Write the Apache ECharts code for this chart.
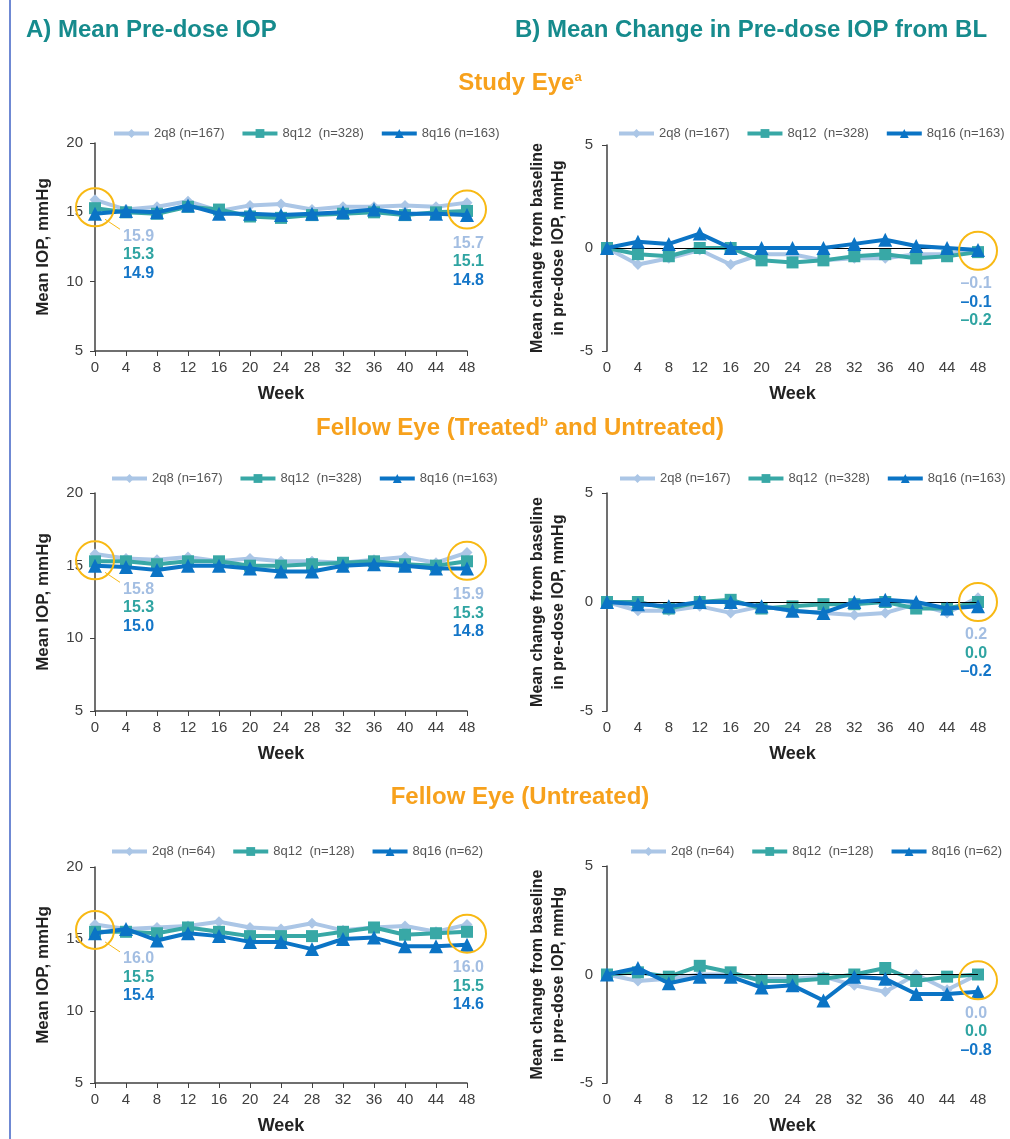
<!DOCTYPE html>
<html>
<head>
<meta charset="utf-8">
<script src="https://cdn.jsdelivr.net/npm/echarts@6/dist/echarts.min.js"></script>
<style>
html,body{margin:0;padding:0;background:#ffffff;}
#c{width:1010px;height:1139px;}
</style>
</head>
<body>
<div id="c"></div>
<script>
// ---------- data ----------
const weeks = ['0','4','8','12','16','20','24','28','32','36','40','44','48'];
const legendNamesAll = ['2q8 (n=167)', '8q12  (n=328)', '8q16 (n=163)'];
const legendNamesUntreated = ['2q8 (n=64)', '8q12  (n=128)', '8q16 (n=62)'];
const meanTickLabels = [5, 10, 15, 20];
const changeTickLabels = [-5, 0, 5];

// Study eye, mean pre-dose IOP (mmHg)
const studyMean2q8  = [15.9, 15.2, 15.4, 15.8, 15.1, 15.5, 15.6, 15.2, 15.4, 15.4, 15.5, 15.4, 15.7];
const studyMean8q12 = [15.3, 15.0, 14.9, 15.4, 15.2, 14.7, 14.6, 14.8, 14.9, 15.0, 14.8, 15.0, 15.1];
const studyMean8q16 = [14.9, 15.1, 15.0, 15.5, 14.9, 14.9, 14.8, 14.9, 15.0, 15.2, 14.9, 14.9, 14.8];
// Study eye, mean change from BL
const studyChg2q8  = [0, -0.8, -0.5, -0.1, -0.8, -0.3, -0.3, -0.6, -0.5, -0.5, -0.3, -0.3, -0.1];
const studyChg8q12 = [0, -0.3, -0.4, 0.0, 0.0, -0.6, -0.7, -0.6, -0.4, -0.3, -0.5, -0.4, -0.2];
const studyChg8q16 = [0, 0.3, 0.2, 0.7, 0.0, 0.0, 0.0, 0.0, 0.2, 0.4, 0.1, 0.0, -0.1];

// Fellow eye (treated and untreated)
const fellowMean2q8  = [15.8, 15.5, 15.4, 15.6, 15.3, 15.5, 15.3, 15.3, 15.2, 15.4, 15.6, 15.2, 15.9];
const fellowMean8q12 = [15.3, 15.3, 15.1, 15.3, 15.3, 15.0, 15.0, 15.1, 15.2, 15.3, 15.1, 15.0, 15.3];
const fellowMean8q16 = [15.0, 14.9, 14.7, 15.0, 15.0, 14.8, 14.6, 14.6, 15.0, 15.1, 15.0, 14.8, 14.8];
const fellowChg2q8  = [0, -0.4, -0.4, -0.2, -0.5, -0.2, -0.4, -0.5, -0.6, -0.5, -0.1, -0.5, 0.2];
const fellowChg8q12 = [0, 0.0, -0.3, 0.0, 0.1, -0.3, -0.2, -0.1, -0.1, 0.0, -0.3, -0.3, 0.0];
const fellowChg8q16 = [0, -0.1, -0.2, 0.0, 0.0, -0.2, -0.4, -0.5, 0.0, 0.1, 0.0, -0.3, -0.2];

// Fellow eye (untreated)
const untrMean2q8  = [16.0, 15.7, 15.8, 15.9, 16.2, 15.8, 15.7, 16.1, 15.6, 15.8, 15.9, 15.5, 16.0];
const untrMean8q12 = [15.5, 15.5, 15.4, 15.8, 15.5, 15.2, 15.2, 15.2, 15.5, 15.8, 15.3, 15.4, 15.5];
const untrMean8q16 = [15.4, 15.7, 14.9, 15.4, 15.2, 14.8, 14.8, 14.3, 15.0, 15.1, 14.5, 14.5, 14.6];
const untrChg2q8  = [0, -0.3, -0.2, 0.0, 0.0, -0.2, -0.2, -0.1, -0.5, -0.8, 0.0, -0.7, 0.0];
const untrChg8q12 = [0, 0.1, -0.1, 0.4, 0.1, -0.3, -0.3, -0.2, 0.0, 0.3, -0.3, -0.1, 0.0];
const untrChg8q16 = [0, 0.3, -0.4, -0.1, -0.1, -0.6, -0.5, -1.2, -0.1, -0.2, -0.9, -0.9, -0.8];

// ---------- style ----------
const FONT = "'Liberation Sans', Arial, Helvetica, sans-serif";
const COLORS = ['#abc6e6', '#38a8a6', '#0b74c5'];
const LABEL_COLORS = ['#a3bee2', '#2fa4a2', '#1476c8'];
const SYMBOLS = ['diamond', 'rect', 'triangle'];
const SIZES = [11, 12, 14];
const TEAL = '#168b8d';
const ORANGE = '#f7a11c';
const CIRCLE = '#f8b914';
const AXIS = '#404040';

const panels = [
  { kind: 'mean', series: [studyMean2q8, studyMean8q12, studyMean8q16], names: legendNamesAll,
    grid: { left: 95, top: 143, width: 372, height: 208 }, legend: { left: 112, top: 127 } },
  { kind: 'chg', series: [studyChg2q8, studyChg8q12, studyChg8q16], names: legendNamesAll,
    grid: { left: 607, top: 145, width: 371, height: 206 }, legend: { left: 617, top: 127 } },
  { kind: 'mean', series: [fellowMean2q8, fellowMean8q12, fellowMean8q16], names: legendNamesAll,
    grid: { left: 95, top: 493, width: 372, height: 218 }, legend: { left: 110, top: 472 } },
  { kind: 'chg', series: [fellowChg2q8, fellowChg8q12, fellowChg8q16], names: legendNamesAll,
    grid: { left: 607, top: 493, width: 371, height: 218 }, legend: { left: 618, top: 472 } },
  { kind: 'mean', series: [untrMean2q8, untrMean8q12, untrMean8q16], names: legendNamesUntreated,
    grid: { left: 95, top: 867, width: 372, height: 216 }, legend: { left: 110, top: 845 } },
  { kind: 'chg', series: [untrChg2q8, untrChg8q12, untrChg8q16], names: legendNamesUntreated,
    grid: { left: 607, top: 866, width: 371, height: 217 }, legend: { left: 629, top: 845 } }
];

const option = {
  animation: false,
  backgroundColor: '#ffffff',
  textStyle: { fontFamily: FONT },
  grid: [], xAxis: [], yAxis: [], legend: [], series: []
};

panels.forEach((p, gi) => {
  const isMean = p.kind === 'mean';
  option.grid.push(Object.assign({ containLabel: false }, p.grid));
  option.legend.push({
    left: p.legend.left, top: p.legend.top, orient: 'horizontal', width: 420, padding: 0,
    data: p.names, itemWidth: 35, itemHeight: 11, itemGap: 16, itemTextGap: 3,
    selectedMode: false,
    lineStyle: { width: 4 },
    textStyle: { fontFamily: FONT, fontSize: 13, color: '#555555' }
  });
  option.xAxis.push({
    type: 'category', gridIndex: gi, data: weeks, boundaryGap: false,
    axisLine: { show: isMean, onZero: false, lineStyle: { color: AXIS, width: 1.5 } },
    axisTick: { show: isMean, length: 5, lineStyle: { color: AXIS } },
    axisLabel: { fontFamily: FONT, fontSize: 15, color: AXIS, margin: 9 },
    splitLine: { show: false },
    name: 'Week', nameLocation: 'middle', nameGap: 34,
    nameTextStyle: { fontFamily: FONT, fontSize: 18, fontWeight: 'bold', color: '#222222' }
  });
  const ticks = isMean ? meanTickLabels : changeTickLabels;
  option.yAxis.push({
    type: 'value', gridIndex: gi,
    min: ticks[0], max: ticks[ticks.length - 1], interval: ticks[1] - ticks[0],
    axisLine: { show: true, lineStyle: { color: AXIS, width: 1.5 } },
    axisTick: { show: true, length: 5, lineStyle: { color: AXIS } },
    axisLabel: { fontFamily: FONT, fontSize: 15, color: AXIS, margin: isMean ? 12 : 14 },
    splitLine: { show: false },
    name: isMean ? 'Mean IOP, mmHg' : 'Mean change from baseline\nin pre-dose IOP, mmHg',
    nameLocation: 'middle', nameGap: isMean ? 41 : 38,
    nameTextStyle: { fontFamily: FONT, fontSize: isMean ? 17 : 16, fontWeight: 'bold',
      color: '#222222', lineHeight: 21 }
  });
  p.series.forEach((arr, si) => {
    const s = {
      type: 'line', name: p.names[si], xAxisIndex: gi, yAxisIndex: gi, data: arr,
      symbol: SYMBOLS[si], symbolSize: SIZES[si], showAllSymbol: true,
      lineStyle: { width: 4, color: COLORS[si] },
      itemStyle: { color: COLORS[si] },
      z: 3 + si, silent: true
    };
    if (!isMean && si === 0) {
      s.markLine = {
        silent: true, symbol: 'none', label: { show: false }, animation: false,
        lineStyle: { color: '#000000', width: 1, type: 'solid' },
        data: [{ yAxis: 0 }]
      };
    }
    option.series.push(s);
  });
});

const chart = echarts.init(document.getElementById('c'), null, { renderer: 'canvas' });
chart.setOption(option);

// ---------- annotations (titles, highlight circles, end-value labels) ----------
const fmt = v => (v < 0 ? '\u2013' : '') + Math.abs(v).toFixed(1);
const graphics = [];
graphics.push({ type: 'line', shape: { x1: 10, y1: 0, x2: 10, y2: 1139 },
  style: { stroke: '#3f62c4', lineWidth: 1.5 }, silent: true });

function title(text, x, y, color, align, rich) {
  const st = { text: text, x: x, y: y, fill: color, align: align, verticalAlign: 'middle',
    font: 'bold 24px ' + FONT };
  if (rich) st.rich = rich;
  graphics.push({ type: 'text', style: st, silent: true });
}
const supRich = { sup: { fill: ORANGE, fontSize: 13, fontWeight: 'bold', fontFamily: FONT, verticalAlign: 'top', padding: [0, 0, 10, 0] } };
title('A) Mean Pre-dose IOP', 26, 30, TEAL, 'left');
title('B) Mean Change in Pre-dose IOP from BL', 515, 30, TEAL, 'left');
title('Study Eye{sup|a}', 520, 83, ORANGE, 'center', supRich);
title('Fellow Eye (Treated{sup|b} and Untreated)', 520, 428, ORANGE, 'center', supRich);
title('Fellow Eye (Untreated)', 520, 797, ORANGE, 'center');

panels.forEach((p, gi) => {
  const isMean = p.kind === 'mean';
  const idxs = isMean ? [0, weeks.length - 1] : [weeks.length - 1];
  idxs.forEach(idx => {
    const vals = p.series.map(s => s[idx]);
    const avg = vals.reduce((a, b) => a + b, 0) / vals.length;
    const pt = chart.convertToPixel({ xAxisIndex: gi, yAxisIndex: gi }, [idx, avg]);
    const cx = pt[0], cy = pt[1];
    graphics.push({ type: 'circle', shape: { cx: cx, cy: cy, r: 19 },
      style: { fill: 'none', stroke: CIRCLE, lineWidth: 2 }, z: 10, silent: true });
    const order = [0, 1, 2].sort((a, b) => vals[b] - vals[a]);
    let tx, ty0, align;
    if (isMean && idx === 0) {
      tx = cx + 28; ty0 = cy + 29; align = 'left';
      graphics.push({ type: 'line', shape: { x1: cx + 10, y1: cy + 12, x2: cx + 25, y2: cy + 22 },
        style: { stroke: CIRCLE, lineWidth: 1 }, z: 10, silent: true });
    } else if (isMean) {
      tx = cx + 17; ty0 = cy + 34; align = 'right';
    } else {
      tx = cx - 2; ty0 = cy + 33; align = 'center';
    }
    order.forEach((si, k) => {
      graphics.push({ type: 'text', z: 10, silent: true,
        style: { text: fmt(vals[si]), x: tx, y: ty0 + k * 18.5, align: align, verticalAlign: 'middle',
          fill: LABEL_COLORS[si], font: 'bold 16px ' + FONT } });
    });
  });
});

chart.setOption({ graphic: graphics });
</script>
</body>
</html>
